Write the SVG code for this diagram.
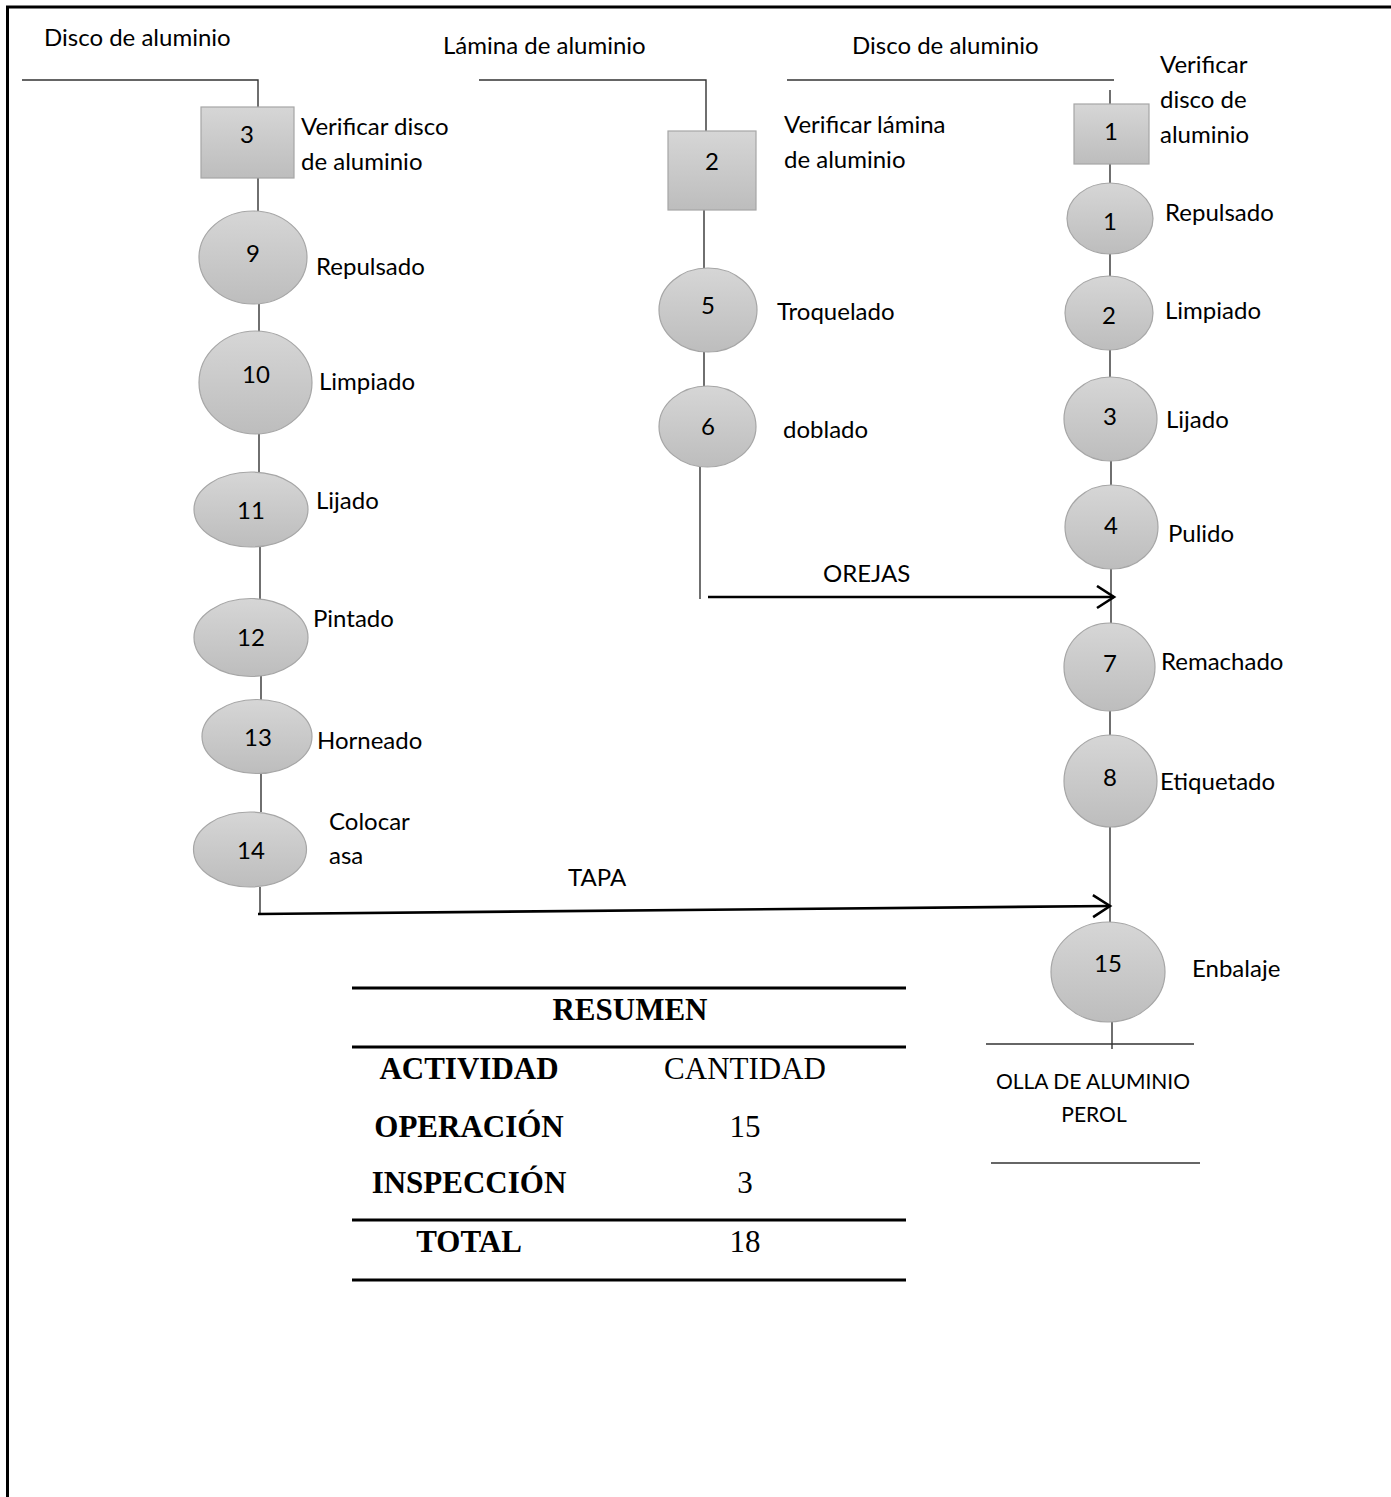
<svg xmlns="http://www.w3.org/2000/svg" width="1391" height="1497" viewBox="0 0 1391 1497">
<style>
.t{font-family:Lato,"Liberation Sans",sans-serif;font-size:24px;fill:#000}
.n{font-family:Lato,"Liberation Sans",sans-serif;font-size:24px;fill:#000;text-anchor:middle}
.s{font-family:Lato,"Liberation Sans",sans-serif;font-size:21px;fill:#000;text-anchor:middle}
.shape{fill:url(#g);stroke:#a6a6a6;stroke-width:1.2}
.c{stroke:#333;stroke-width:1.4;fill:none}
.a{stroke:#000;stroke-width:2.6;fill:none}
.tl{stroke:#000;stroke-width:3.2}
.th{font-family:"Liberation Serif",serif;font-size:31px;fill:#000;text-anchor:middle}
.b{font-weight:bold}
</style>
<defs>
<linearGradient id="g" x1="0" y1="0" x2="0" y2="1">
<stop offset="0" stop-color="#d6d6d6"/>
<stop offset="1" stop-color="#bdbdbd"/>
</linearGradient>
<marker id="arr" markerUnits="userSpaceOnUse" markerWidth="22" markerHeight="26" refX="19" refY="12" orient="auto">
<path d="M2,1 L19,12 L2,23" fill="none" stroke="#000" stroke-width="2.6"/>
</marker>
</defs>
<rect x="0" y="0" width="1391" height="1497" fill="#fff"/>
<rect x="7.5" y="7" width="1420" height="1520" fill="none" stroke="#000" stroke-width="3"/>

<g id="connectors">
<polyline class="c" points="22,80 258,80 258,107"/>
<line class="c" x1="258" y1="178" x2="258" y2="211"/>
<line class="c" x1="259" y1="304" x2="259" y2="332"/>
<line class="c" x1="259" y1="434" x2="259" y2="473"/>
<line class="c" x1="260" y1="547" x2="260" y2="599"/>
<line class="c" x1="261" y1="676" x2="261" y2="700"/>
<line class="c" x1="261" y1="773" x2="261" y2="812"/>
<line class="c" x1="260" y1="887" x2="260" y2="913"/>
<polyline class="c" points="479,80 706,80 706,131"/>
<line class="c" x1="704" y1="210" x2="704" y2="268"/>
<line class="c" x1="704" y1="352" x2="704" y2="386"/>
<line class="c" x1="700" y1="467" x2="700" y2="599"/>
<line class="c" x1="787" y1="80" x2="1114" y2="80"/>
<line class="c" x1="1110" y1="90" x2="1110" y2="104"/>
<line class="c" x1="1110" y1="164" x2="1110" y2="183"/>
<line class="c" x1="1110" y1="254" x2="1110" y2="276"/>
<line class="c" x1="1110" y1="350" x2="1110" y2="377"/>
<line class="c" x1="1111" y1="461" x2="1111" y2="485"/>
<line class="c" x1="1111" y1="569" x2="1111" y2="623"/>
<line class="c" x1="1110" y1="711" x2="1110" y2="735"/>
<line class="c" x1="1110" y1="827" x2="1110" y2="922"/>
<line class="c" x1="1112" y1="1022" x2="1112" y2="1049"/>
<line class="c" x1="986" y1="1044" x2="1194" y2="1044"/>
<line class="c" x1="991" y1="1163" x2="1200" y2="1163"/>
<line class="a" x1="708" y1="597" x2="1114" y2="597" marker-end="url(#arr)"/>
<text class="t" x="823" y="582">OREJAS</text>
<line class="a" x1="258" y1="914" x2="1110" y2="906" marker-end="url(#arr)"/>
<text class="t" x="568" y="886">TAPA</text>
</g>

<g id="inputs">
<text class="t" x="44" y="46">Disco de aluminio</text>
<text class="t" x="443" y="54">Lámina de aluminio</text>
<text class="t" x="852" y="54">Disco de aluminio</text>
</g>

<g id="insp3">
<rect class="shape" x="201" y="107" width="93" height="71"/>
<text class="n" x="247" y="143">3</text>
<text class="t" x="301" y="135">Verificar disco</text>
<text class="t" x="301" y="170">de aluminio</text>
</g>
<g id="op9">
<ellipse class="shape" cx="253" cy="257.5" rx="54" ry="46.5"/>
<text class="n" x="253" y="262">9</text>
<text class="t" x="316" y="275">Repulsado</text>
</g>
<g id="op10">
<ellipse class="shape" cx="255.5" cy="382.5" rx="56.5" ry="51.5"/>
<text class="n" x="256" y="383">10</text>
<text class="t" x="319" y="390">Limpiado</text>
</g>
<g id="op11">
<ellipse class="shape" cx="251" cy="509.5" rx="57" ry="37.5"/>
<text class="n" x="251" y="519">11</text>
<text class="t" x="316" y="509">Lijado</text>
</g>
<g id="op12">
<ellipse class="shape" cx="251" cy="637.5" rx="57" ry="39"/>
<text class="n" x="251" y="646">12</text>
<text class="t" x="313" y="627">Pintado</text>
</g>
<g id="op13">
<ellipse class="shape" cx="257" cy="736.5" rx="55" ry="37"/>
<text class="n" x="258" y="746">13</text>
<text class="t" x="317" y="749">Horneado</text>
</g>
<g id="op14">
<ellipse class="shape" cx="250" cy="849.5" rx="56.5" ry="37.5"/>
<text class="n" x="251" y="859">14</text>
<text class="t" x="329" y="830">Colocar</text>
<text class="t" x="329" y="864">asa</text>
</g>

<g id="insp2">
<rect class="shape" x="668" y="131" width="88" height="79"/>
<text class="n" x="712" y="170">2</text>
<text class="t" x="784" y="133">Verificar lámina</text>
<text class="t" x="784" y="168">de aluminio</text>
</g>
<g id="op5">
<ellipse class="shape" cx="708" cy="310" rx="49" ry="42"/>
<text class="n" x="708" y="314">5</text>
<text class="t" x="777" y="320">Troquelado</text>
</g>
<g id="op6">
<ellipse class="shape" cx="707.5" cy="426.5" rx="48.5" ry="40.5"/>
<text class="n" x="708" y="435">6</text>
<text class="t" x="783" y="438">doblado</text>
</g>

<g id="insp1">
<rect class="shape" x="1074" y="104" width="75" height="60"/>
<text class="n" x="1111" y="140">1</text>
<text class="t" x="1160" y="73">Verificar</text>
<text class="t" x="1160" y="108">disco de</text>
<text class="t" x="1160" y="143">aluminio</text>
</g>
<g id="op1">
<ellipse class="shape" cx="1110" cy="218.5" rx="43" ry="35.5"/>
<text class="n" x="1110" y="230">1</text>
<text class="t" x="1165" y="221">Repulsado</text>
</g>
<g id="op2">
<ellipse class="shape" cx="1109" cy="313" rx="44" ry="37"/>
<text class="n" x="1109" y="324">2</text>
<text class="t" x="1165" y="319">Limpiado</text>
</g>
<g id="op3">
<ellipse class="shape" cx="1110.5" cy="419" rx="46.5" ry="42"/>
<text class="n" x="1110" y="425">3</text>
<text class="t" x="1166" y="428">Lijado</text>
</g>
<g id="op4">
<ellipse class="shape" cx="1111.5" cy="527" rx="46.5" ry="42"/>
<text class="n" x="1111" y="534">4</text>
<text class="t" x="1168" y="542">Pulido</text>
</g>
<g id="op7">
<ellipse class="shape" cx="1109.5" cy="667" rx="45.5" ry="44"/>
<text class="n" x="1110" y="672">7</text>
<text class="t" x="1161" y="670">Remachado</text>
</g>
<g id="op8">
<ellipse class="shape" cx="1110.5" cy="781" rx="46.5" ry="46"/>
<text class="n" x="1110" y="786">8</text>
<text class="t" x="1160" y="790">Etiquetado</text>
</g>
<g id="op15">
<ellipse class="shape" cx="1108" cy="972" rx="57" ry="50"/>
<text class="n" x="1108" y="972">15</text>
<text class="t" x="1192" y="977">Enbalaje</text>
</g>
<g id="output">
<text class="s" x="1093" y="1089">OLLA DE ALUMINIO</text>
<text class="s" x="1094" y="1122">PEROL</text>
</g>

<g id="resumen">
<line class="tl" x1="352" y1="988" x2="906" y2="988"/>
<line class="tl" x1="352" y1="1047" x2="906" y2="1047"/>
<line class="tl" x1="352" y1="1220" x2="906" y2="1220"/>
<line class="tl" x1="352" y1="1280" x2="906" y2="1280"/>
<text class="th b" x="630" y="1020">RESUMEN</text>
<text class="th b" x="469" y="1079">ACTIVIDAD</text>
<text class="th" x="745" y="1079">CANTIDAD</text>
<text class="th b" x="469" y="1137">OPERACIÓN</text>
<text class="th" x="745" y="1137">15</text>
<text class="th b" x="469" y="1193">INSPECCIÓN</text>
<text class="th" x="745" y="1193">3</text>
<text class="th b" x="469" y="1252">TOTAL</text>
<text class="th" x="745" y="1252">18</text>
</g>
</svg>
